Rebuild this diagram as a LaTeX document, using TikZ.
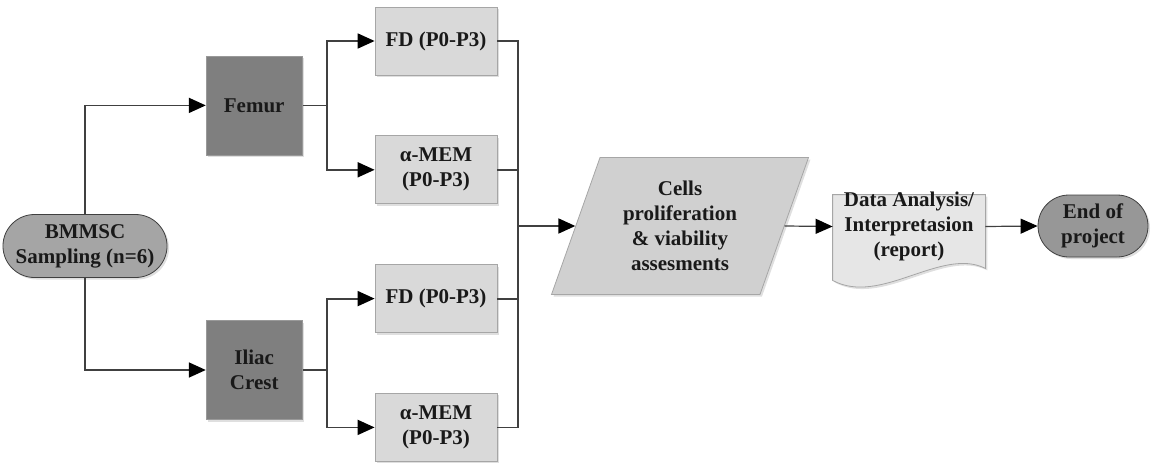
\documentclass[tikz,border=0pt]{standalone}
\usepackage{fontspec}
\setmainfont{Liberation Serif}
\usepackage{xcolor}
\usepackage{tikz}
\usetikzlibrary{positioning, calc, arrows.meta, shapes.geometric, shapes.misc, shadows}

\definecolor{linegray}{HTML}{404040}
\definecolor{edgegray}{HTML}{A6A6A6}
\definecolor{boxgray}{HTML}{D9D9D9}
\definecolor{darkbox}{HTML}{7F7F7F}
\definecolor{termgray}{HTML}{A5A5A5}
\definecolor{endgray}{HTML}{979797}
\definecolor{inputgray}{HTML}{D0D0D0}
\definecolor{docgray}{HTML}{E6E6E6}

\begin{document}
\begin{tikzpicture}[
        node distance=30pt and 36pt,
        every node/.style={font=\fontsize{10.5}{12.5}\selectfont\bfseries, text=black!90, align=center, inner sep=2pt},
        shade/.style={drop shadow={shadow xshift=1pt, shadow yshift=-1pt, opacity=0.25, fill=gray}},
        terminal/.style={rounded rectangle, draw=linegray, fill=termgray, shade},
        site/.style={draw=darkbox!80, fill=darkbox, minimum width=48pt, minimum height=49.5pt, shade},
        medium/.style={draw=edgegray, fill=boxgray, minimum width=61pt, minimum height=34pt, shade},
        assay/.style={trapezium, trapezium left angle=63.6, trapezium right angle=116.4, trapezium stretches body,
                      draw=edgegray, fill=inputgray, minimum width=128.5pt, minimum height=68.5pt, shade},
        line/.style={draw=linegray, line width=0.9pt},
        arrow/.style={line, -{Triangle[length=8.5pt, width=7.5pt, color=black]}}
    ]
    \useasboundingbox (0,0) rectangle (578pt,231pt);

    % Nodes -----------------------------------------------
    \node[medium] (fd1) at (218pt,210.5pt) {FD (P0-P3)};
    \node[medium, below=of fd1] (mem1) {α-MEM\\(P0-P3)};
    \node[medium, below=of mem1] (fd2) {FD (P0-P3)};
    \node[medium, below=of fd2] (mem2) {α-MEM\\(P0-P3)};
    \node[site, left=of $(fd1.west)!0.5!(mem1.west)$] (femur) {Femur};
    \node[site, left=of $(fd2.west)!0.5!(mem2.west)$, yshift=-3.5pt] (iliac) {Iliac\\Crest};
    \node[terminal, minimum width=77pt, minimum height=31.5pt] (start) at (42.5pt,108pt) {BMMSC\\Sampling (n=6)};
    \node[assay] (cells) at (340pt,118pt) {Cells\\proliferation\\\&~viability\\assesments};
    \node[minimum width=76pt, minimum height=31.5pt] (doc) at (454.5pt,117.75pt) {};
    \node[terminal, fill=endgray, minimum width=59pt, minimum height=31pt] (end) at (546.5pt,118pt) {End of\\project};
    \coordinate (fsplit) at ($(femur.east)+(12pt,0)$);
    \coordinate (isplit) at ($(iliac.east)+(12pt,0)$);
    \coordinate (join) at (259pt,118pt);

    % report shape
    \fill[draw=edgegray, fill=docgray, shade] (doc.north west) -- (doc.north east)
        -- ($(doc.south east)+(0,-5pt)$)
        .. controls ($(doc.south east)+(-22pt,6pt)$) and ($(doc.south west)+(24pt,-24pt)$) .. ($(doc.south west)+(0,-11pt)$)
        -- cycle;
    \node at (doc) {Data Analysis/\\Interpretasion\\(report)};

    % sampling sites
    \draw[arrow] (start.north) |- (femur.west);
    \draw[arrow] (start.south) |- (iliac.west);

    % culture media
    \draw[line] (femur.east) -- (fsplit);
    \draw[arrow] (fsplit) |- (fd1.west);
    \draw[arrow] (fsplit) |- (mem1.west);
    \draw[line] (iliac.east) -- (isplit);
    \draw[arrow] (isplit) |- (fd2.west);
    \draw[arrow] (isplit) |- (mem2.west);

    % merge and output flow
    \draw[line] (fd1.east) -| (join);
    \draw[line] (mem1.east) -| (join);
    \draw[line] (fd2.east) -| (join);
    \draw[line] (mem2.east) -| (join);
    \draw[arrow] (join) -- (cells.west);
    \draw[arrow, line width=0.6pt] (cells.east) -- (doc.west);
    \draw[arrow, line width=0.6pt] (doc.east) -- (end.west);
\end{tikzpicture}
\end{document}
